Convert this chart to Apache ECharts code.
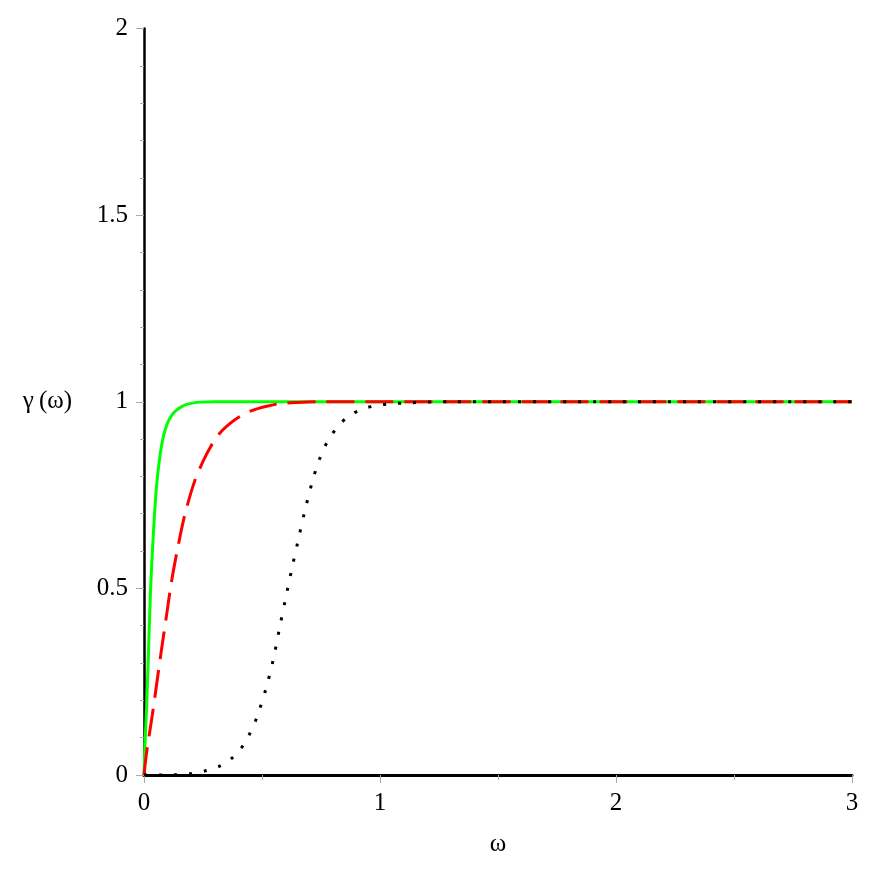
<!DOCTYPE html>
<html>
<head>
<meta charset="utf-8">
<script src="https://cdn.jsdelivr.net/npm/echarts@6/dist/echarts.min.js"></script>
<style>
html,body{margin:0;padding:0;background:#fff;}
#chart{width:872px;height:872px;}
</style>
</head>
<body>
<div id="chart"></div>
<script>
// Tick values
const xTicks = [0, 1, 2, 3];
const yTicks = [0, 0.5, 1, 1.5, 2];

// Green solid curve
const greenX = [0, 0.004, 0.011, 0.018, 0.028, 0.04, 0.054, 0.075, 0.096, 0.12, 0.139, 0.16, 0.181, 0.21, 0.237, 0.3, 0.5, 1, 2, 3];
const greenY = [0, 0.08, 0.18, 0.31, 0.5, 0.65, 0.78, 0.885, 0.938, 0.966, 0.978, 0.987, 0.993, 0.997, 0.999, 1, 1, 1, 1, 1];

// Red dashed curve
const redX = [0, 0.011, 0.035, 0.055, 0.075, 0.096, 0.117, 0.145, 0.174, 0.216, 0.25, 0.28, 0.32, 0.365, 0.41, 0.46, 0.52, 0.577, 0.65, 0.75, 1, 2, 3];
const redY = [0, 0.06, 0.16, 0.25, 0.34, 0.43, 0.52, 0.615, 0.70, 0.79, 0.84, 0.877, 0.915, 0.942, 0.962, 0.977, 0.988, 0.995, 0.998, 1, 1, 1, 1];

// Black dotted curve
const blackX = [0, 0.1, 0.14, 0.202, 0.266, 0.325, 0.379, 0.421, 0.452, 0.478, 0.517, 0.548, 0.574, 0.599, 0.626, 0.654, 0.682, 0.715, 0.74, 0.765, 0.79, 0.824, 0.873, 0.933, 0.993, 1.057, 1.12, 1.2, 1.3, 2, 3];
const blackY = [0, 0, 0.001, 0.004, 0.012, 0.025, 0.049, 0.08, 0.116, 0.154, 0.232, 0.31, 0.393, 0.47, 0.551, 0.631, 0.709, 0.79, 0.84, 0.878, 0.906, 0.936, 0.964, 0.982, 0.991, 0.995, 0.997, 0.999, 1, 1, 1];

function pairs(xs, ys) { return xs.map((x, i) => [x, ys[i]]); }

const font = '"Liberation Serif", "Times New Roman", Times, serif';
const chart = echarts.init(document.getElementById('chart'), null, {renderer: 'canvas'});
chart.setOption({
  animation: false,
  backgroundColor: '#ffffff',
  textStyle: {fontFamily: font},
  grid: {left: 144, right: 20, top: 28.5, bottom: 97, containLabel: false},
  xAxis: {
    type: 'value', min: xTicks[0], max: xTicks[xTicks.length - 1], interval: 1,
    name: 'ω', nameLocation: 'middle', nameGap: 57,
    nameTextStyle: {fontFamily: font, fontSize: 25, color: '#000'},
    axisLine: {show: true, onZero: false, lineStyle: {color: '#000', width: 3}},
    axisTick: {show: true, inside: false, length: 8, lineStyle: {color: '#aaa', width: 1}},
    minorTick: {show: true, splitNumber: 2, length: 5, lineStyle: {color: '#aaa', width: 1}},
    axisLabel: {fontFamily: font, fontSize: 25, color: '#000', margin: 16,
      formatter: v => xTicks.includes(v) ? String(v) : ''},
    splitLine: {show: false}
  },
  yAxis: {
    type: 'value', min: yTicks[0], max: yTicks[yTicks.length - 1], interval: 0.5,
    name: 'γ\u2009(ω)', nameLocation: 'middle', nameGap: 72, nameRotate: 0,
    nameTextStyle: {fontFamily: font, fontSize: 25, color: '#000'},
    axisLine: {show: true, onZero: false, lineStyle: {color: '#000', width: 2.5}},
    axisTick: {show: true, inside: false, length: 8, lineStyle: {color: '#aaa', width: 1}},
    minorTick: {show: true, splitNumber: 5, length: 4, lineStyle: {color: '#aaa', width: 1}},
    axisLabel: {fontFamily: font, fontSize: 25, color: '#000', margin: 16,
      formatter: v => yTicks.includes(v) ? String(v) : ''},
    splitLine: {show: false}
  },
  series: [
    {type: 'line', data: pairs(greenX, greenY), showSymbol: false, smooth: 0.3,
      lineStyle: {color: '#00ff00', width: 3}, z: 2},
    {type: 'line', data: pairs(redX, redY), showSymbol: false, smooth: 0.3,
      lineStyle: {color: '#ff0000', width: 3, type: [28, 11], cap: 'butt'}, z: 3},
    {type: 'line', data: pairs(blackX, blackY), showSymbol: false, smooth: 0.3,
      lineStyle: {color: '#000000', width: 3, type: [3, 12], cap: 'butt'}, z: 4}
  ]
});
</script>
</body>
</html>
